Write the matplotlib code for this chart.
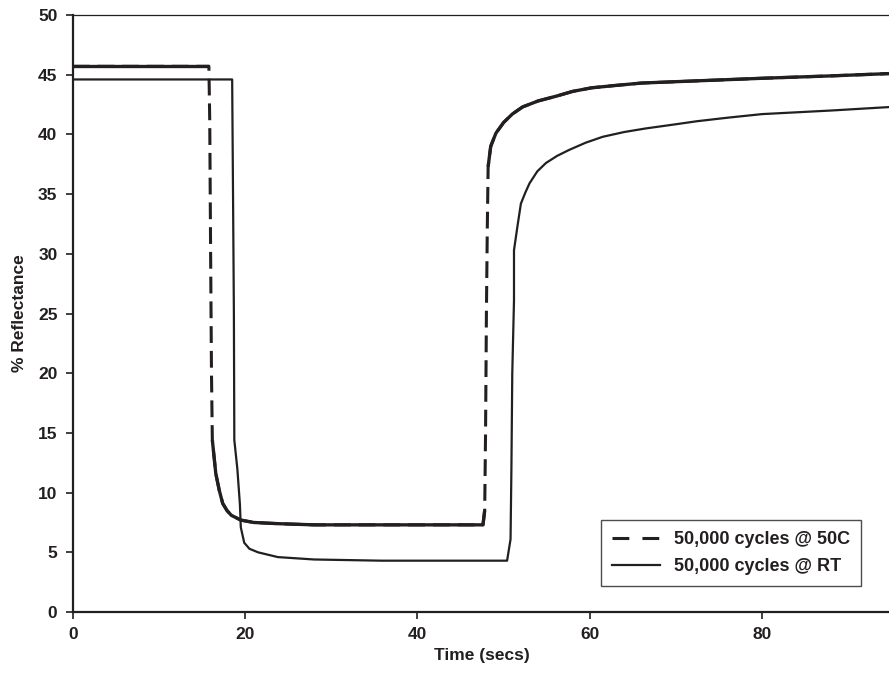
import matplotlib
matplotlib.use('Agg')
import matplotlib.pyplot as plt
from matplotlib.lines import Line2D
import numpy as np

plt.rcParams['font.family'] = ['Liberation Sans', 'DejaVu Sans']
plt.rcParams['font.weight'] = 'bold'

ink = '#231f20'

# 50,000 cycles @ 50C  (dashed)
t_50c = [0, 15.8, 15.9, 16.0, 16.1, 16.2, 16.6, 17.0, 17.4, 17.9, 18.4, 19.5, 21.0,
         23.8, 28.0, 35.8, 42.0, 47.6, 47.8, 47.9, 48.0, 48.1, 48.2, 48.5, 49.1,
         50.0, 51.0, 52.2, 54.0, 56.1, 58.0, 60.2, 63.0, 66.0, 73.0, 80.0, 88.0, 95.0]
r_50c = [45.7, 45.7, 41.0, 30.0, 20.0, 14.4, 11.6, 10.2, 9.1, 8.5, 8.1, 7.7, 7.5,
         7.4, 7.3, 7.3, 7.3, 7.3, 8.5, 15.0, 25.0, 32.0, 37.3, 39.0, 40.1,
         41.0, 41.7, 42.3, 42.8, 43.2, 43.6, 43.9, 44.1, 44.3, 44.5, 44.7, 44.9, 45.1]

# 50,000 cycles @ RT  (solid)
t_rt = [0, 18.5, 18.6, 18.7, 18.75, 19.1, 19.4, 19.5, 19.9, 20.5, 21.5, 23.8, 28.0,
        35.8, 50.4, 50.6, 50.8, 50.9, 51.0, 51.2, 51.2, 51.6, 52.0, 52.5, 53.0,
        53.9, 54.9, 56.2, 57.6, 59.5, 61.5, 64.0, 66.5, 69.5, 72.4, 76.0, 80.0,
        88.0, 95.0]
r_rt = [44.6, 44.6, 35.0, 25.0, 14.4, 12.0, 9.0, 7.1, 5.8, 5.3, 5.0, 4.6, 4.4,
        4.3, 4.3, 5.2, 6.1, 12.0, 20.0, 26.1, 30.3, 32.3, 34.2, 35.1, 35.9,
        36.9, 37.6, 38.2, 38.7, 39.3, 39.8, 40.2, 40.5, 40.8, 41.1, 41.4, 41.7,
        42.0, 42.3]

labels = ['50,000 cycles @ 50C', '50,000 cycles @ RT']

fig = plt.figure(figsize=(8.89, 6.75), dpi=100)
ax = fig.add_axes([0.0818, 0.0933, 0.921, 0.8845])

x50 = np.asarray(t_50c)
y50 = np.asarray(r_50c)
ax.plot(x50, y50, color=ink, lw=2.2, ls=(0, (5.5, 2.6)))

# the noisy flat parts of the 50C trace print as a solid band, only the jumps look dashed
slope = np.abs(np.diff(y50) / np.diff(x50))
flat = slope <= 10
i = 0
while i < len(flat):
    if flat[i]:
        j = i
        while j + 1 < len(flat) and flat[j + 1]:
            j += 1
        ax.plot(x50[i:j + 2], y50[i:j + 2], color=ink, lw=2.4, solid_capstyle='butt')
        i = j + 1
    else:
        i += 1

ax.plot(t_rt, r_rt, color=ink, lw=1.6)

ax.set_xlim(0, 95)
ax.set_ylim(0, 50)
ax.set_xticks([0, 20, 40, 60, 80])
ax.set_yticks(np.arange(0, 51, 5))
ax.tick_params(direction='out', length=5, width=1.2, pad=6, labelsize=12.5,
               colors=ink, top=False, right=False)
for lab in ax.get_xticklabels() + ax.get_yticklabels():
    lab.set_fontweight('bold')

for s in ['left', 'bottom']:
    ax.spines[s].set_linewidth(1.6)
    ax.spines[s].set_color(ink)
ax.spines['top'].set_linewidth(0.9)
ax.spines['top'].set_color(ink)
ax.spines['right'].set_visible(False)

ax.set_xlabel('Time (secs)', fontsize=12.5, fontweight='bold', color=ink, labelpad=4)
ax.set_ylabel('% Reflectance', fontsize=12.5, fontweight='bold', color=ink, labelpad=8)

handles = [Line2D([], [], color=ink, lw=2.2, ls=(0, (5.5, 4.3))),
           Line2D([], [], color=ink, lw=1.6)]
leg = ax.legend(handles, labels, loc='lower right',
                bbox_to_anchor=(861 / 889, 1 - 586 / 675),
                bbox_transform=fig.transFigure, borderaxespad=0, fancybox=False,
                frameon=True, handlelength=2.65, fontsize=13, borderpad=0.6,
                labelspacing=0.55, handletextpad=0.8)
leg.get_frame().set_edgecolor(ink)
leg.get_frame().set_linewidth(1.0)
for txt in leg.get_texts():
    txt.set_color(ink)
    txt.set_fontweight('bold')

fig.savefig('out.png', dpi=100)
